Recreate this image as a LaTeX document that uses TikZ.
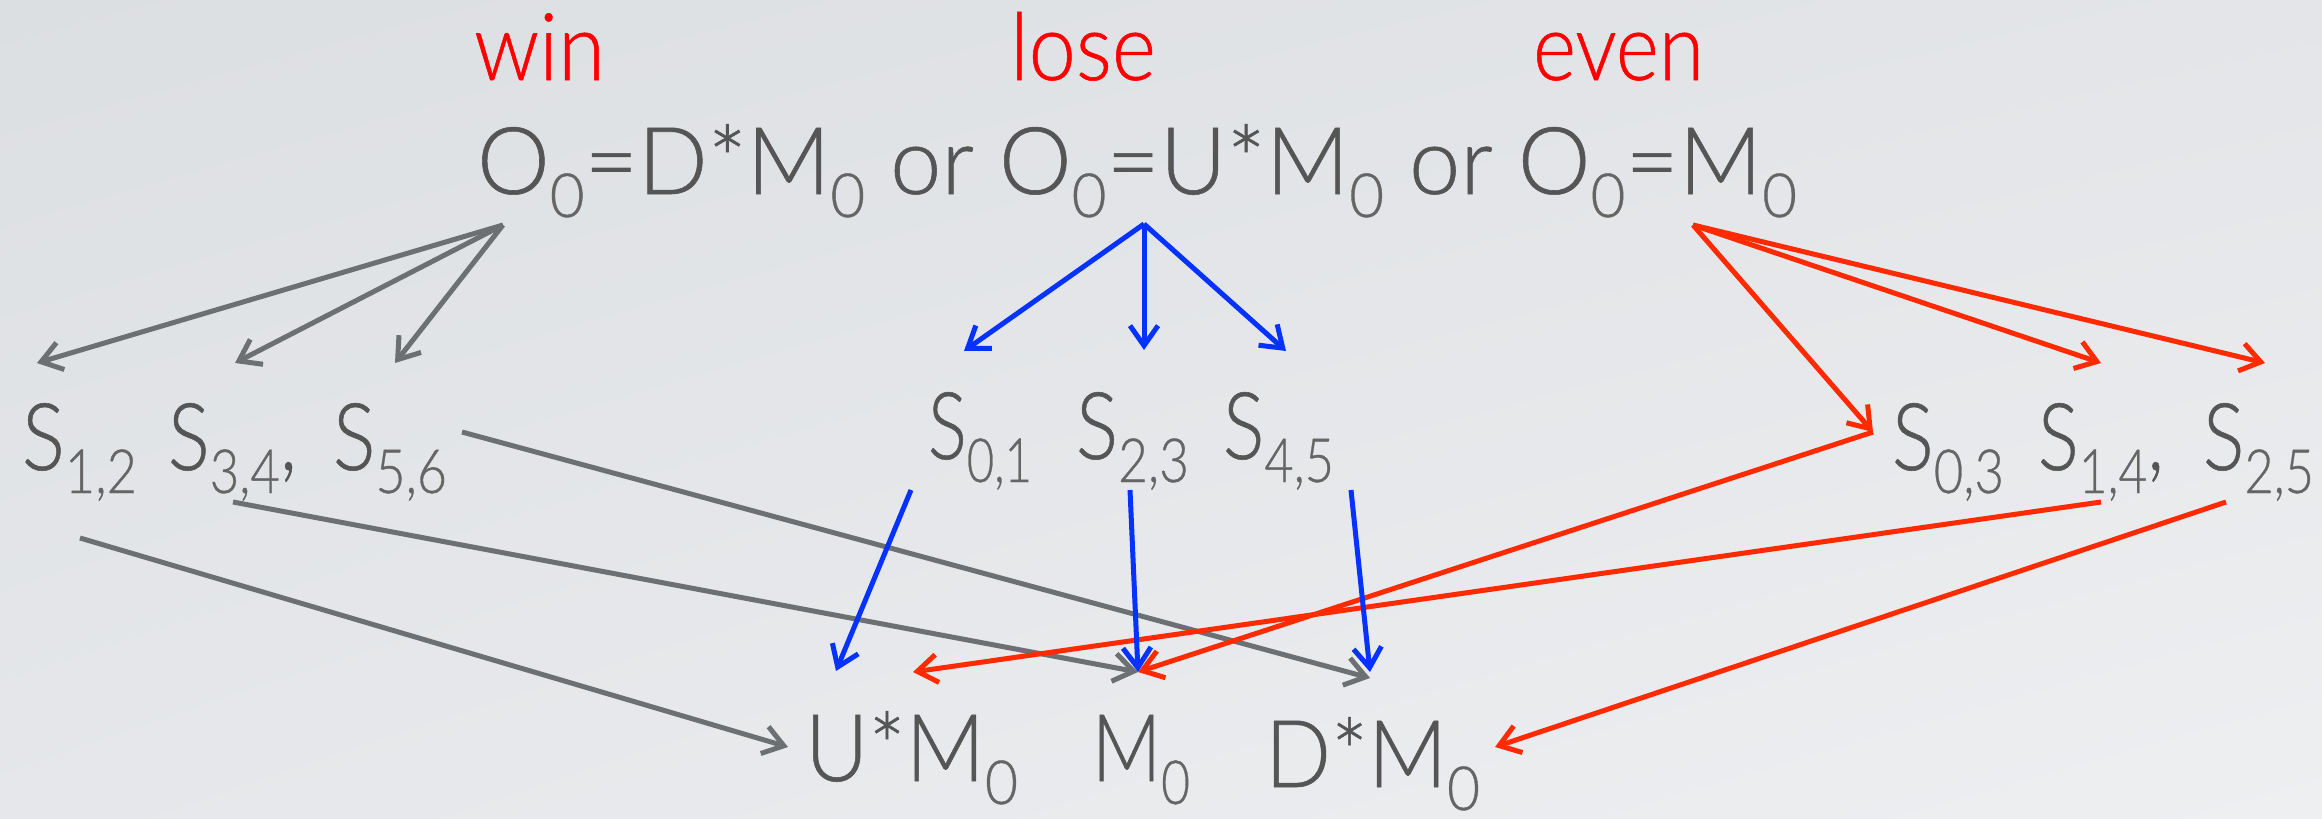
\documentclass[tikz,border=0pt]{standalone}
\usepackage{fontspec}
\setmainfont{Lato Light}[FakeBold=0.6,AutoFakeBold=0]
\usepackage{graphicx}
\usetikzlibrary{arrows.meta,shadings}
\definecolor{txtc}{HTML}{555555}
\definecolor{subc}{HTML}{656565}
\definecolor{lblc}{HTML}{FF0000}
\definecolor{garr}{HTML}{6D7072}
\definecolor{barr}{HTML}{0532FF}
\definecolor{rarr}{HTML}{FF2A00}
\definecolor{bgTL}{HTML}{DCDFE2}
\definecolor{bgTR}{HTML}{E3E5E8}
\definecolor{bgBL}{HTML}{E5E7EA}
\definecolor{bgBR}{HTML}{EEEFF1}
\newcommand{\subs}[1]{\raisebox{-23pt}{\fontsize{61pt}{61pt}\selectfont\color{subc}#1}}
\newcommand{\fitw}[2]{\resizebox{#1}{\height}{#2}}
\tikzset{
  txtnode/.style={anchor=base west, inner sep=0pt, outer sep=0pt, text=txtc,
    font=\fontsize{93.5pt}{100pt}\selectfont},
  lblnode/.style={txtnode, text=lblc},
  conn/.style={line width=5pt, -{Straight Barb[length=20pt,width=28pt,line width=5pt]}},
  gconn/.style={conn, draw=garr},
  bconn/.style={conn, draw=barr},
  rconn/.style={conn, draw=rarr}
}
\begin{document}
\begin{tikzpicture}[x=1pt, y=-1pt]
\shade[upper left=bgTL, upper right=bgTR, lower left=bgBL, lower right=bgBR] (0,0) rectangle (2322,819);
\useasboundingbox (0,0) rectangle (2322,819);

% labels
\node[lblnode] (win)  at (474,80)  {\fitw{131pt}{win}};
\node[lblnode] (lose) at (1010,80) {\fitw{146pt}{lose}};
\node[lblnode] (even) at (1533,80) {\fitw{171pt}{even}};

% top formula
\node[txtnode] (top) at (477,194) {\fitw{1320pt}{O\subs{0}=D*M\subs{0} or O\subs{0}=U*M\subs{0} or O\subs{0}=M\subs{0}}};

% middle rows
\node[txtnode] (s12) at (22,470)   {\fitw{115pt}{S\subs{1,2}}};
\node[txtnode] (s34) at (168,470)  {\fitw{129pt}{S\subs{3,4},}};
\node[txtnode] (s56) at (333,470)  {\fitw{114pt}{S\subs{5,6}}};
\node[txtnode] (s01) at (928,459)  {\fitw{104pt}{S\subs{0,1}}};
\node[txtnode] (s23) at (1076,459) {\fitw{113pt}{S\subs{2,3}}};
\node[txtnode] (s45) at (1223,459) {\fitw{111pt}{S\subs{4,5}}};
\node[txtnode] (s03) at (1892,470) {\fitw{112pt}{S\subs{0,3}}};
\node[txtnode] (s14) at (2038,470) {\fitw{126pt}{S\subs{1,4},}};
\node[txtnode] (s25) at (2203,470) {\fitw{111pt}{S\subs{2,5}}};

% bottom row
\node[txtnode] (um) at (805,781)  {\fitw{213pt}{U*M\subs{0}}};
\node[txtnode] (mm) at (1092,781) {\fitw{98pt}{M\subs{0}}};
\node[txtnode] (dm) at (1265,787) {\fitw{215pt}{D*M\subs{0}}};

% connector points
\coordinate (winO) at (503,225);
\coordinate (loseO) at (1144,224);
\coordinate (evenO) at (1693,225);
\coordinate (s12in) at (37,363);
\coordinate (s34in) at (235,363);
\coordinate (s56in) at (395,363);
\coordinate (s01in) at (964,351);
\coordinate (s23in) at (1144,350);
\coordinate (s45in) at (1286,351);
\coordinate (s03in) at (1873,432);
\coordinate (s14in) at (2101,363);
\coordinate (s25in) at (2265,363);
\coordinate (s12out) at (80,538);
\coordinate (s34out) at (233,502);
\coordinate (s56out) at (462,432);
\coordinate (s01out) at (911,490);
\coordinate (s23out) at (1130,490);
\coordinate (s45out) at (1351,490);
\coordinate (s14out) at (2101,502);
\coordinate (s25out) at (2226,502);
\coordinate (umL) at (788,747);
\coordinate (umB) at (836,671);
\coordinate (umR) at (913,672);
\coordinate (mmT) at (1138,672);
\coordinate (dmG) at (1370,678);
\coordinate (dmB) at (1370,672);
\coordinate (dmR) at (1495,747);

% grey
\draw[gconn] (winO) -- (s12in);
\draw[gconn] (winO) -- (s34in);
\draw[gconn] (winO) -- (s56in);
\draw[gconn] (s12out) -- (umL);
\draw[gconn] (s34out) -- (mmT);
\draw[gconn] (s56out) -- (dmG);
% red
\draw[rconn] (evenO) -- (s03in);
\draw[rconn] (evenO) -- (s14in);
\draw[rconn] (evenO) -- (s25in);
\draw[rconn] (s03in) -- (mmT);
\draw[rconn] (s14out) -- (umR);
\draw[rconn] (s25out) -- (dmR);
% blue
\draw[bconn] (loseO) -- (s01in);
\draw[bconn] (loseO) -- (s23in);
\draw[bconn] (loseO) -- (s45in);
\draw[bconn] (s01out) -- (umB);
\draw[bconn] (s23out) -- (mmT);
\draw[bconn] (s45out) -- (dmB);
\end{tikzpicture}
\end{document}
